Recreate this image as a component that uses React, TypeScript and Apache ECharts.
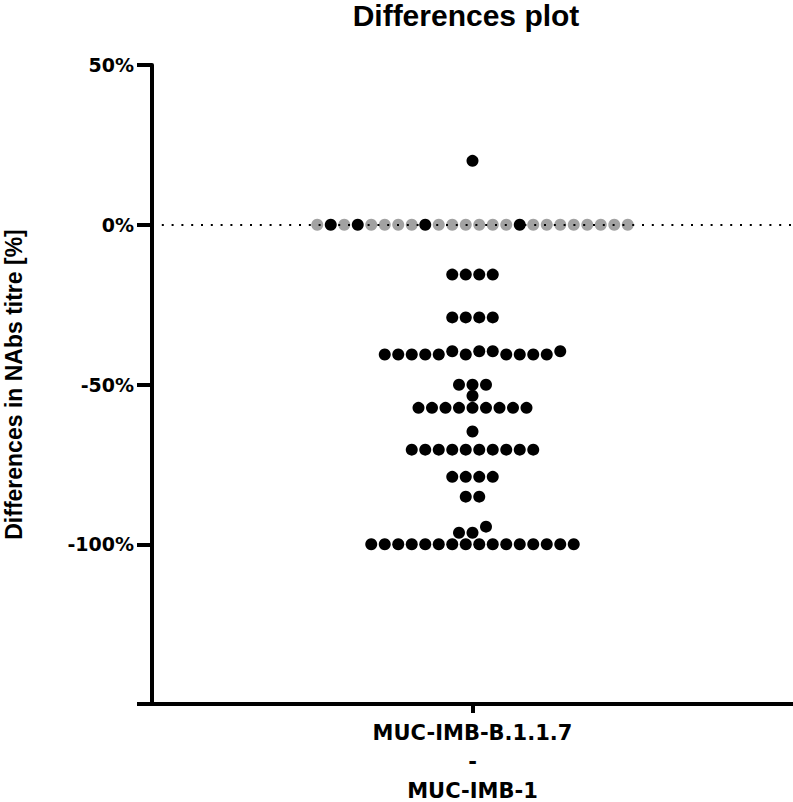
import React, { useEffect, useRef } from "react";
import * as echarts from "echarts";

const TITLE = "Differences plot";
const Y_NAME = "Differences in NAbs titre [%]";
const CATEGORIES = ["MUC-IMB-B.1.1.7\n-\nMUC-IMB-1"];
const Y_MIN = -150;
const Y_MAX = 50;
const Y_STEP = 50;
const Y_TICK_LABELS: Record<string, string> = {
  "50": "50%",
  "0": "0%",
  "-50": "-50%",
  "-100": "-100%",
};

// Row at 0 %, left to right; group "B" = black dots, "G" = grey dots
const zeroRowValues = [0, 0, 0, 0, 0, 0, 0, 0, 0, 0, 0, 0, 0, 0, 0, 0, 0, 0, 0, 0, 0, 0, 0, 0];
const zeroRowGroups = ["G", "B", "G", "B", "G", "G", "G", "G", "B", "G", "G", "G", "G", "G", "G", "B", "G", "G", "G", "G", "G", "G", "G", "G"];

// Other (black) rows of the swarm, values in %, left to right
const rowPlus20 = [20];
const rowMinus16 = [-15.6, -15.6, -15.6, -15.6];
const rowMinus29 = [-29, -29, -29, -29];
const rowMinus40 = [-40.6, -40.6, -40.6, -40.6, -40.6, -39.6, -40.6, -39.6, -39.6, -40.6, -40.6, -40.6, -40.6, -39.6];
const rowMinus50 = [-50.1, -50.1, -50.1];
const rowMinus53 = [-53.5];
const rowMinus57 = [-57.3, -57.3, -57.3, -57.3, -57.3, -57.3, -57.3, -57.3, -57.3];
const rowMinus65 = [-64.7];
const rowMinus70 = [-70.4, -70.4, -70.4, -70.4, -70.4, -70.4, -70.4, -70.4, -70.4, -70.4];
const rowMinus79 = [-78.9, -78.9, -78.9, -78.9];
const rowMinus85 = [-85.1, -85.1];
const rowMinus96 = [-96.4, -96.4, -94.5];
const rowMinus100 = [-100, -100, -100, -100, -100, -100, -100, -100, -100, -100, -100, -100, -100, -100, -100, -100];

const blackRows = [
  rowPlus20, rowMinus16, rowMinus29, rowMinus40, rowMinus50, rowMinus53, rowMinus57,
  rowMinus65, rowMinus70, rowMinus79, rowMinus85, rowMinus96, rowMinus100,
];

// swarm: dots of one row side by side, centred on the category (unit = one dot step)
function layoutRow(values: number[]): number[][] {
  const n = values.length;
  return values.map((v, i) => [i - (n - 1) / 2, v]);
}

const X_HALF_SPAN = 23.74; // half plot width in dot steps

export default function App() {
  const ref = useRef<HTMLDivElement>(null);

  useEffect(() => {
    if (!ref.current) return;
    const chart = echarts.init(ref.current, undefined, { renderer: "svg" });

    const zeroLaid = layoutRow(zeroRowValues);
    const greyData = zeroLaid.filter((_, i) => zeroRowGroups[i] === "G");
    const blackData: number[][] = [];
    zeroLaid.forEach((p, i) => {
      if (zeroRowGroups[i] === "B") blackData.push(p);
    });
    blackRows.forEach((r) => layoutRow(r).forEach((p) => blackData.push(p)));

    chart.setOption({
      animation: false,
      graphic: [
        {
          type: "text",
          x: 466,
          y: 0,
          style: {
            text: TITLE,
            fill: "#000",
            font: 'bold 30px "Liberation Sans", Arial, sans-serif',
            textAlign: "center",
            textVerticalAlign: "top",
          },
        },
      ],
      grid: {
        left: 152,
        right: 0,
        top: 65,
        bottom: 98,
        containLabel: false,
        outerBoundsMode: "none",
      },
      xAxis: [
        {
          type: "category",
          data: CATEGORIES,
          boundaryGap: true,
          axisLine: { show: true, onZero: false, lineStyle: { color: "#000", width: 4 } },
          axisTick: { show: true, alignWithLabel: true, length: 9, lineStyle: { color: "#000", width: 4 } },
          axisLabel: {
            margin: 14,
            color: "#000",
            fontFamily: "DejaVu Sans",
            fontWeight: "bold",
            fontSize: 21,
            lineHeight: 29,
          },
          splitLine: { show: false },
        },
        {
          type: "value",
          min: -X_HALF_SPAN,
          max: X_HALF_SPAN,
          show: false,
          axisLine: { onZero: false },
          splitLine: { show: false },
        },
      ],
      yAxis: {
        type: "value",
        min: Y_MIN,
        max: Y_MAX,
        interval: Y_STEP,
        axisLine: { show: true, onZero: false, lineStyle: { color: "#000", width: 4 } },
        axisTick: { show: true, length: 15, lineStyle: { color: "#000", width: 4 } },
        splitLine: { show: false },
        axisLabel: {
          formatter: (v: number) => Y_TICK_LABELS[String(v)] ?? "",
          color: "#000",
          fontFamily: "DejaVu Sans",
          fontWeight: "bold",
          fontSize: 19,
          margin: 18,
        },
        name: Y_NAME,
        nameLocation: "middle",
        nameGap: 127,
        nameTextStyle: {
          color: "#000",
          fontFamily: "Liberation Sans",
          fontWeight: "bold",
          fontSize: 23,
        },
      },
      series: [
        {
          type: "scatter",
          xAxisIndex: 1,
          data: [],
          z: 1,
          silent: true,
          markLine: {
            silent: true,
            symbol: "none",
            label: { show: false },
            lineStyle: { color: "#000", width: 2, type: [2, 7.8], opacity: 1 },
            data: [{ yAxis: 0 }],
          },
        },
        {
          type: "scatter",
          name: "grey",
          xAxisIndex: 1,
          symbol: "circle",
          symbolSize: 12,
          itemStyle: { color: "#a2a2a2", opacity: 1 },
          data: greyData,
          z: 3,
        },
        {
          type: "scatter",
          name: "black",
          xAxisIndex: 1,
          symbol: "circle",
          symbolSize: 12,
          itemStyle: { color: "#000", opacity: 1 },
          data: blackData,
          z: 4,
        },
      ],
    });

    return () => chart.dispose();
  }, []);

  return (
    <div
      ref={ref}
      style={{ position: "fixed", left: 0, top: 0, width: 793, height: 802, background: "#fff" }}
    />
  );
}
